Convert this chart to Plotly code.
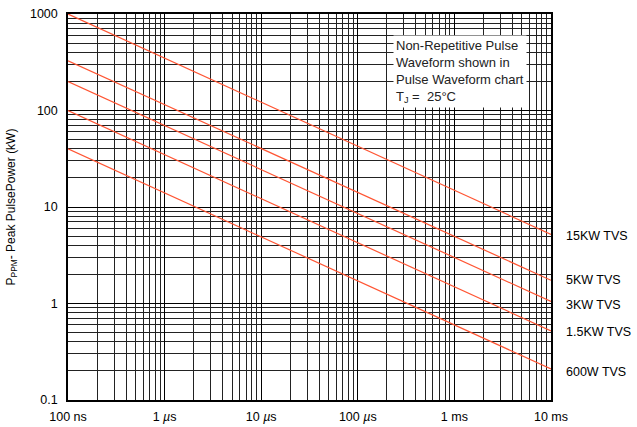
import numpy as np
import plotly.graph_objects as go

# Pulse time (s) at the two ends of each line
t_ends = [1e-7, 1e-2]
series_names = ["15KW TVS", "5KW TVS", "3KW TVS", "1.5KW TVS", "600W TVS"]
p_start = [1000, 328, 199, 100, 40]      # kW at 100 ns
p_end = [5.2, 1.74, 1.05, 0.52, 0.21]    # kW at 10 ms
label_y = [5.05, 1.75, 0.96, 0.51, 0.195]  # kW where each label sits

x_tickvals = [1e-7, 1e-6, 1e-5, 1e-4, 1e-3, 1e-2]
x_ticktext = ["100 ns", "1 <i>µ</i>s", "10 <i>µ</i>s", "100 <i>µ</i>s", "1 ms", "10 ms"]
y_tickvals = [0.1, 1, 10, 100, 1000]
y_ticktext = ["0.1", "1", "10", "100", "1000"]

FONT = "Liberation Sans, Arial, Helvetica, sans-serif"
RED = "#ff5533"

fig = go.Figure()
for name, a, b, ly in zip(series_names, p_start, p_end, label_y):
    fig.add_trace(go.Scatter(x=t_ends, y=[a, b], mode="lines", name=name,
                             line=dict(color=RED, width=1.2), showlegend=False))
    fig.add_annotation(x=1.027, xref="paper", y=np.log10(ly), yref="y",
                       text=name, showarrow=False, xanchor="left",
                       font=dict(size=12.5, color="black", family=FONT))

grid_style = dict(showgrid=True, gridcolor="black", gridwidth=1,
                  minor=dict(showgrid=True, gridcolor="#222222", gridwidth=1, dtick="D1"))

fig.update_xaxes(type="log", range=[-7, -2], tickvals=x_tickvals, ticktext=x_ticktext,
                 showline=True, linecolor="black", linewidth=1.5, mirror=True,
                 ticks="", ticklen=0, ticklabelstandoff=4,
                 tickfont=dict(size=12.5, family=FONT, color="black"),
                 automargin=False, **grid_style)
fig.update_yaxes(type="log", range=[-1, 3], tickvals=y_tickvals, ticktext=y_ticktext,
                 showline=True, linecolor="black", linewidth=1.5, mirror=True,
                 ticks="", ticklen=0, ticklabelstandoff=6,
                 tickfont=dict(size=12.5, family=FONT, color="black"),
                 title=dict(text="P<sub>PPM</sub>- Peak PulsePower (kW)",
                            font=dict(size=12, family=FONT, color="black"), standoff=12),
                 automargin=False, **grid_style)

fig.add_annotation(x=0.672, xref="paper", y=0.946, yref="paper",
                   xanchor="left", yanchor="top", align="left", showarrow=False,
                   text="Non-Repetitive Pulse<br>Waveform shown in<br>Pulse Waveform chart<br>T<sub>J</sub> =  25°C",
                   bgcolor="white", borderpad=2,
                   font=dict(size=13, family=FONT, color="#222222"))

fig.update_layout(width=637, height=427, margin=dict(l=68, r=86, t=14, b=27, autoexpand=False),
                  paper_bgcolor="white", plot_bgcolor="white",
                  font=dict(family=FONT, color="black"))

fig.write_html("out.html", config={"displayModeBar": False},
               post_script="document.body.style.margin='0';document.body.style.overflow='hidden';")
